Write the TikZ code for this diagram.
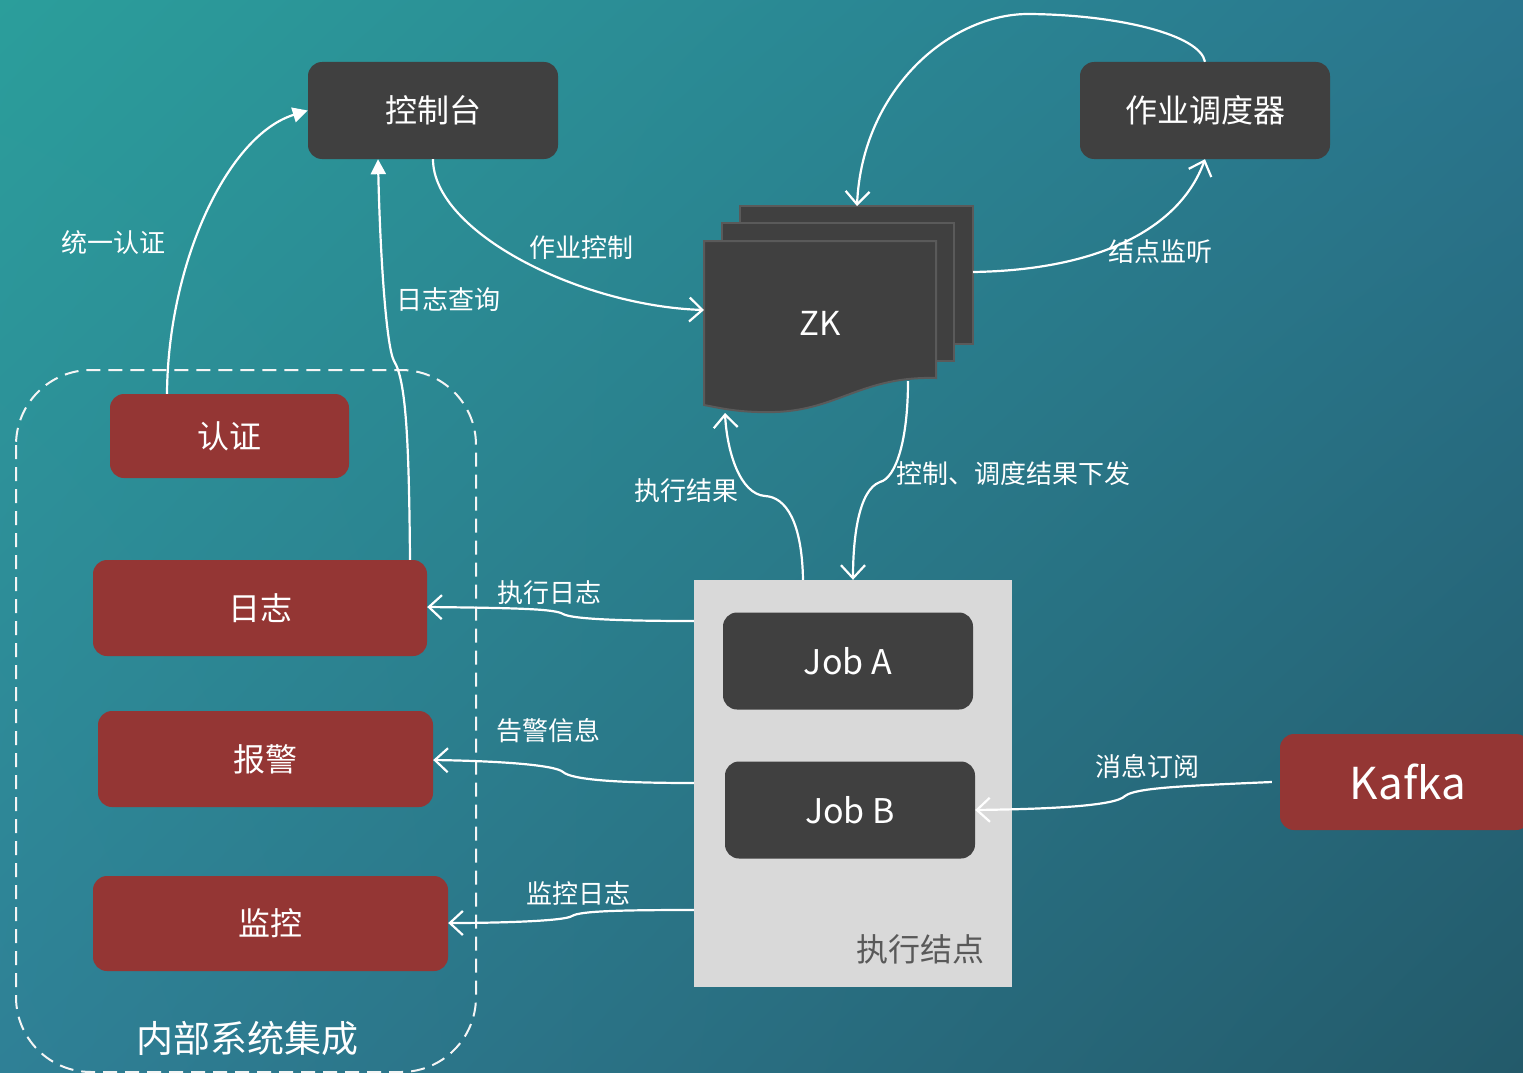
\documentclass[tikz,border=0pt]{standalone}
\usepackage{fontspec}
\setmainfont{Noto Sans CJK SC}
\usetikzlibrary{arrows.meta,calc,shadings}
\definecolor{bgTL}{RGB}{43,158,155}
\definecolor{bgTR}{RGB}{42,118,142}
\definecolor{bgBL}{RGB}{47,128,150}
\definecolor{bgBR}{RGB}{35,90,106}
\definecolor{darkfill}{RGB}{64,64,64}
\definecolor{sheetline}{RGB}{90,90,90}
\definecolor{redfill}{RGB}{148,54,52}
\definecolor{execfill}{RGB}{217,217,217}
\definecolor{exectext}{RGB}{89,89,89}
\tikzset{
  darkbox/.style={fill=darkfill, rounded corners=14pt, minimum width=250pt, minimum height=97pt, text=white, font=\fontsize{32}{38}\selectfont, inner sep=0pt},
  redbox/.style={fill=redfill, rounded corners=14pt, text=white, font=\fontsize{32}{38}\selectfont, inner sep=0pt},
  sheet/.style={fill=darkfill, draw=sheetline, line width=2pt},
  lbl/.style={text=white, font=\fontsize{26}{30}\selectfont, inner sep=0pt},
  conn/.style={draw=white, line width=2.2pt},
  barb/.style={conn, -{Straight Barb[length=13pt,width=24pt,line width=2.2pt]}},
  tri/.style={conn, -{Triangle[length=15pt,width=15pt]}}
}
\begin{document}
\begin{tikzpicture}[x=1pt,y=-1pt]
\shade[upper left=bgTL, upper right=bgTR, lower left=bgBL, lower right=bgBR] (0,0) rectangle (1523,1073);
\useasboundingbox (0,0) rectangle (1523,1073);

% dashed group
\draw[white!92!gray, line width=2pt, dash pattern=on 14pt off 8pt, rounded corners=75pt] (16,370) rectangle (476,1072);

% ZK stack
\draw[sheet] (740,206) rectangle (973,344);
\draw[sheet] (722,223) rectangle (954,361);
\draw[sheet] (704,241) -- (936,241) -- (936,378) .. controls (862,376) and (838,410) .. (775,412) .. controls (740,413) and (720,408) .. (704,405) -- cycle;
\node[text=white, font=\fontsize{33}{38}\selectfont, inner sep=0pt] (zk) at (820,323) {ZK};
\coordinate (zkW) at (704,310);
\coordinate (zkN) at (857,206);
\coordinate (zkE) at (973,272);
\coordinate (zkS) at (725,413);
\coordinate (zkSE) at (908,381);

% boxes
\node[darkbox] (ctrl) at (433,110.5) {控制台};
\node[darkbox] (sched) at (1205,110.5) {作业调度器};

\node[redbox, minimum width=239pt, minimum height=84pt] (auth) at (229.5,436) {认证};
\node[redbox, minimum width=334pt, minimum height=96pt] (log) at (260,608) {日志};
\node[redbox, minimum width=335pt, minimum height=96pt] (alarm) at (265.5,759) {报警};
\node[redbox, minimum width=355pt, minimum height=95pt] (mon) at (270.5,923.5) {监控};
\node[redbox, minimum width=250pt, minimum height=96pt] (kafka) at (1405,782) {};
\node[text=white, font=\fontsize{44}{50}\selectfont, inner sep=0pt] (kafkalbl) at (1408,782) {Kafka};

\node[fill=execfill, minimum width=318pt, minimum height=407pt, inner sep=0pt] (exec) at (853,783.5) {};
\node[darkbox, font=\fontsize{34}{40}\selectfont] (jobA) at (848,661) {Job A};
\node[darkbox, font=\fontsize{34}{40}\selectfont] (jobB) at (850,810) {Job B};
\node[text=exectext, font=\fontsize{32}{38}\selectfont, inner sep=0pt] (execlbl) at (920,949) {执行结点};

\node[text=white, font=\fontsize{37}{44}\selectfont, inner sep=0pt] (grplbl) at (247,1038) {内部系统集成};

% labels
\node[lbl] (l1) at (113,243) {统一认证};
\node[lbl] (l2) at (448,300) {日志查询};
\node[lbl] (l3) at (581,248) {作业控制};
\node[lbl] (l4) at (1160,252) {结点监听};
\node[lbl] (l5) at (686,491) {执行结果};
\node[lbl] (l6) at (1013,474) {控制、调度结果下发};
\node[lbl] (l7) at (549,593) {执行日志};
\node[lbl] (l8) at (548,731) {告警信息};
\node[lbl] (l9) at (578,893) {监控日志};
\node[lbl] (l10) at (1147,766) {消息订阅};

% connectors
\draw[tri] (auth.north -| 167,0) .. controls (168,262) and (228,135) .. (ctrl.west);
\draw[tri] (log.north -| 410,0) .. controls (409,440) and (406,380) .. (394,361) .. controls (386,346) and (380,250) .. (ctrl.south -| 378,0);
\draw[barb] (ctrl.south) .. controls (433,232) and (580,306) .. (zkW);
\draw[barb] (sched.north) .. controls (1200,35) and (1120,15) .. (1030,14) .. controls (950,13) and (862,90) .. (zkN);
\draw[barb] (zkE) .. controls (1100,270) and (1180,228) .. (sched.south);
\draw[barb] (exec.north -| 803,0) .. controls (802,522) and (786,497) .. (765,496) .. controls (740,494) and (727,452) .. (zkS);
\draw[barb] (zkSE) .. controls (908,440) and (896,478) .. (880,482) .. controls (858,490) and (853,540) .. (exec.north);
\draw[barb] (exec.west |- 0,621) .. controls (620,621) and (572,619) .. (563,614) .. controls (555,609) and (520,608) .. (log.east |- 0,607);
\draw[barb] (exec.west |- 0,783) .. controls (620,783) and (572,780) .. (563,772) .. controls (555,765) and (500,761) .. (alarm.east |- 0,760);
\draw[barb] (exec.west |- 0,910) .. controls (620,910) and (580,911) .. (572,916) .. controls (565,921) and (500,923) .. (mon.east |- 0,923);
\draw[barb] ([xshift=-8pt]kafka.west) .. controls (1180,786) and (1135,788) .. (1125,796) .. controls (1115,806) and (1050,809) .. (jobB.east);
\end{tikzpicture}
\end{document}
